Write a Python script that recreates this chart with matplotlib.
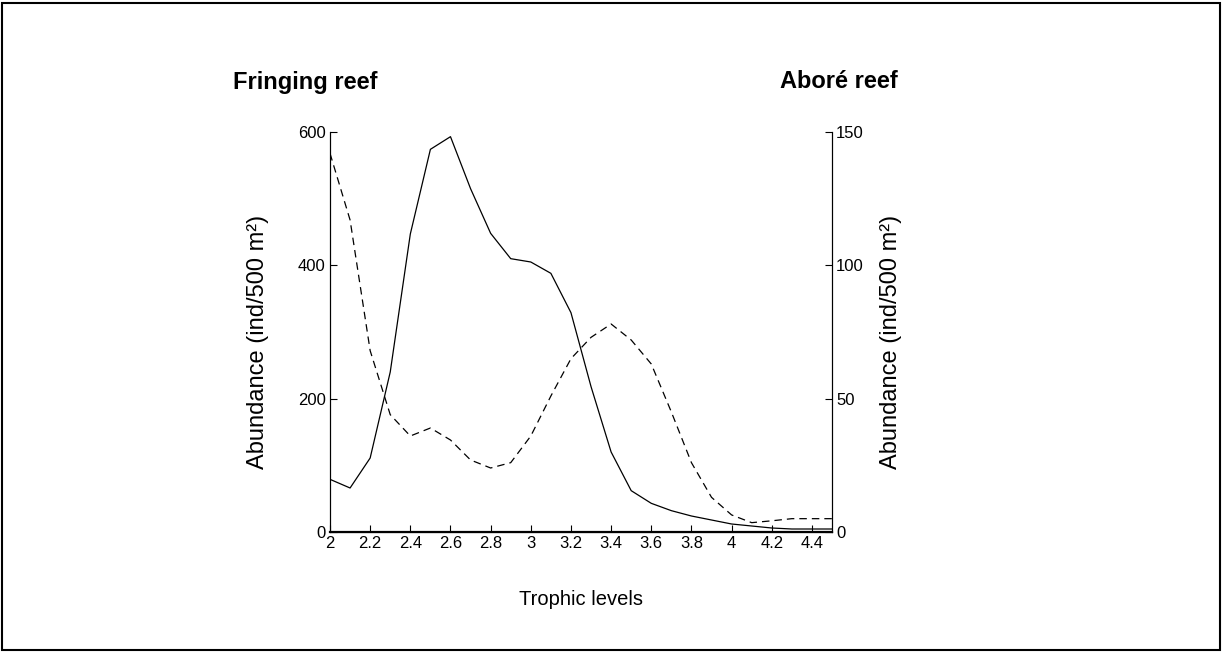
import matplotlib
matplotlib.use("Agg")
import matplotlib.pyplot as plt
from matplotlib.patches import Rectangle

# ---- data ----
trophic = [2.0, 2.1, 2.2, 2.3, 2.4, 2.5, 2.6, 2.7, 2.8, 2.9, 3.0, 3.1, 3.2,
           3.3, 3.4, 3.5, 3.6, 3.7, 3.8, 3.9, 4.0, 4.1, 4.2, 4.3, 4.4, 4.5]
fringing = [79, 66, 111, 240, 447, 574, 593, 515, 448, 410, 405, 388, 329,
            218, 120, 62, 43, 32, 24, 18, 12, 9, 6, 4.5, 4.5, 4.5]
abore = [142, 117, 68, 44, 36, 39, 34.5, 27, 24, 26, 36, 51, 65,
         73, 78, 72, 63, 45, 26, 13, 6.4, 3.5, 4.2, 5, 5, 5]

x_ticks = [2, 2.2, 2.4, 2.6, 2.8, 3, 3.2, 3.4, 3.6, 3.8, 4, 4.2, 4.4]
x_ticklabels = ["2", "2.2", "2.4", "2.6", "2.8", "3", "3.2", "3.4", "3.6",
                "3.8", "4", "4.2", "4.4"]
left_ticks = [0, 200, 400, 600]
right_ticks = [0, 50, 100, 150]

plt.rcParams["font.family"] = ["Liberation Sans", "DejaVu Sans"]

fig = plt.figure(figsize=(12.24, 6.52), dpi=100)
fig.patches.append(Rectangle((0.002, 0.003), 0.995, 0.993, transform=fig.transFigure,
                             fill=False, edgecolor="black", linewidth=1.5))

ax = fig.add_axes([330 / 1224, 120 / 652, 502 / 1224, 400 / 652])
ax.plot(trophic, fringing, color="black", linewidth=0.9)
ax.set_xlim(2, 4.5)
ax.set_ylim(0, 600)
ax.set_xticks(x_ticks)
ax.set_xticklabels(x_ticklabels)
ax.set_yticks(left_ticks)
ax.tick_params(direction="in", length=5, labelsize=12, pad=3)
ax.spines["top"].set_visible(False)
ax.spines["bottom"].set_linewidth(1.6)
ax.set_ylabel("Abundance (ind/500 m²)", fontsize=17)
ax.yaxis.set_label_coords(-0.143, 0.475)
ax.yaxis.label.set_va("center")
ax.set_xlabel("Trophic levels", fontsize=14.5, labelpad=28)

ax2 = ax.twinx()
ax2.plot(trophic, abore, color="black", linewidth=0.9, linestyle=(0, (6, 4)))
ax2.set_ylim(0, 150)
ax2.set_yticks(right_ticks)
ax2.tick_params(direction="in", length=5, labelsize=12, pad=3)
ax2.spines["top"].set_visible(False)
ax2.set_ylabel("Abundance (ind/500 m²)", fontsize=17)
ax2.yaxis.set_label_coords(1.1175, 0.475)
ax2.yaxis.label.set_va("center")

fig.text(233 / 1224, 1 - 82 / 652, "Fringing reef", fontsize=17, fontweight="bold",
         ha="left", va="center")
fig.text(898 / 1224, 1 - 82 / 652, "Aboré reef", fontsize=17, fontweight="bold",
         ha="right", va="center")

fig.savefig("out.png", dpi=100)
